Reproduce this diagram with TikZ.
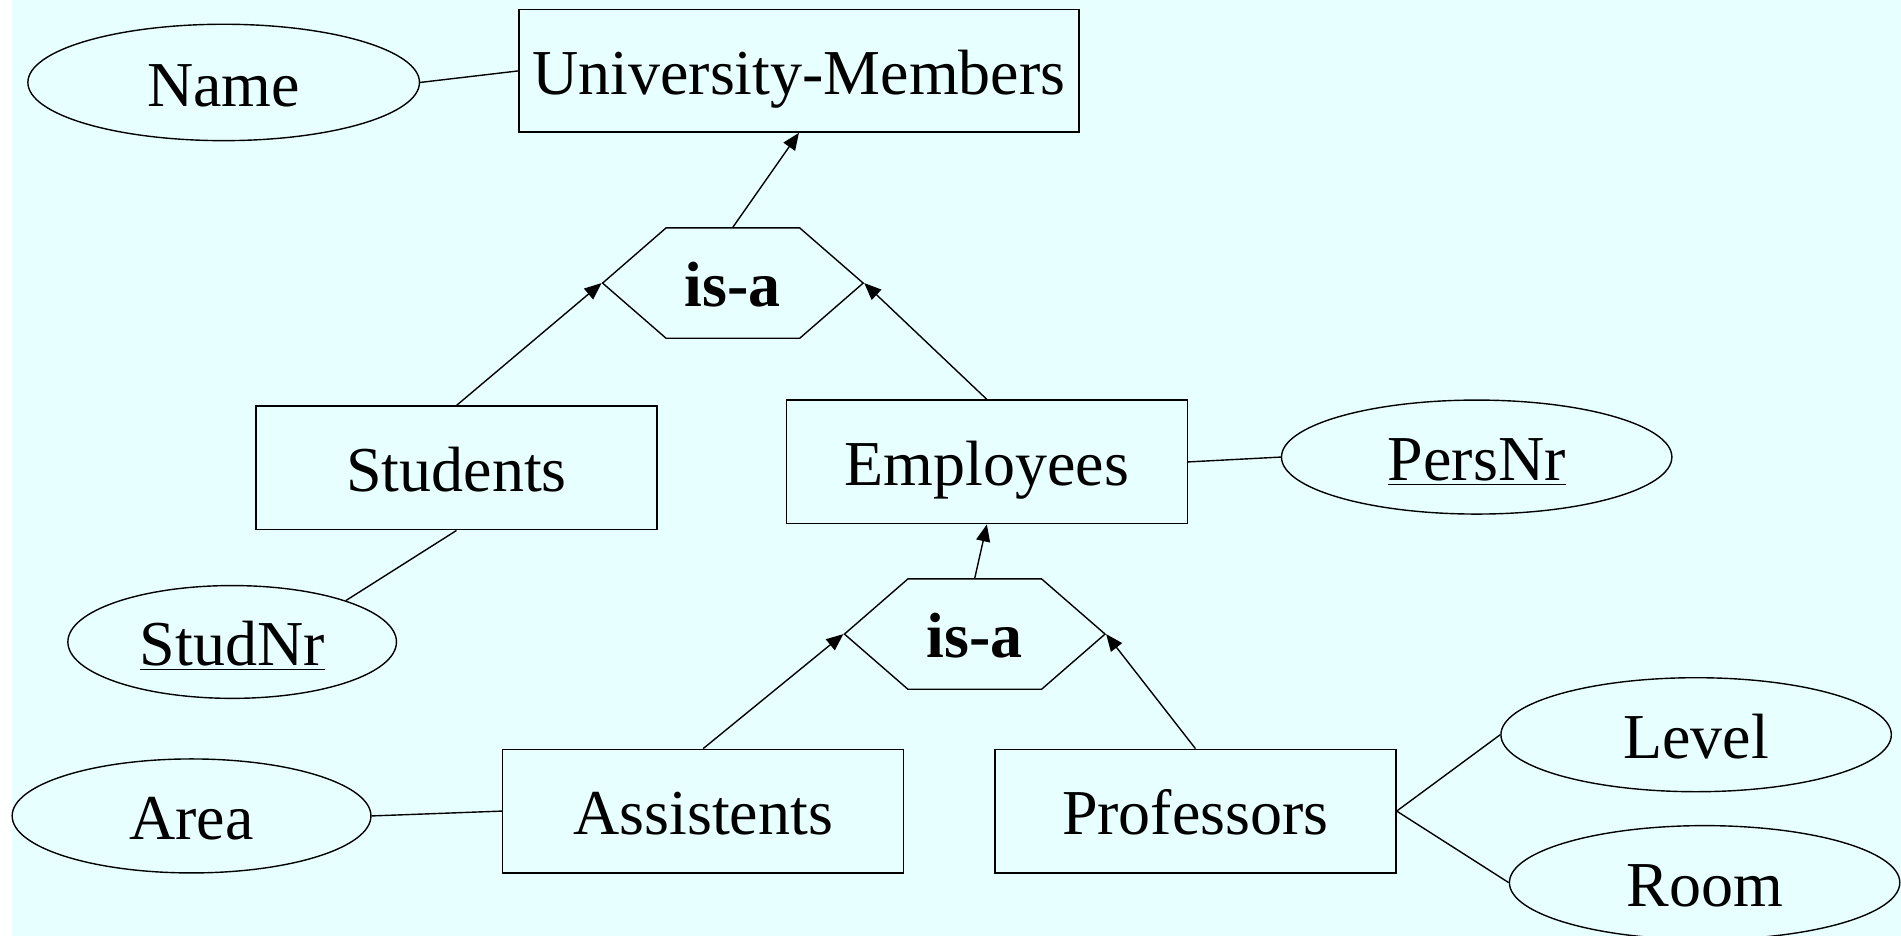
\documentclass[tikz,border=0pt]{standalone}
\usepackage{fontspec}
\setmainfont{Liberation Serif}
\usetikzlibrary{shapes.geometric,shapes.symbols,arrows.meta}
\definecolor{sfondo}{RGB}{232,255,255}

\begin{document}
\begin{tikzpicture}[x=0.6062pt, y=-0.6062pt,
		every node/.style={font=\fontsize{32}{38}\selectfont, inner sep=0pt, text height=23.7pt, text depth=0pt},
		entita/.style={rectangle, draw, line width=0.7pt, minimum width=200.6pt, minimum height=61.8pt},
		attributo/.style={ellipse, draw, line width=0.7pt, minimum height=57pt},
		isa/.style={signal, signal to=west and east, signal pointer angle=82, draw, line width=0.7pt,
			minimum width=130.3pt, minimum height=55.2pt, font=\fontsize{32}{38}\selectfont\bfseries},
		linea/.style={line width=0.7pt},
		freccia/.style={line width=0.7pt, -{Triangle[length=8.5pt, width=7pt]}}]
	% Sfondo
	\fill[white] (0,0) rectangle (1568,772);
	\fill[sfondo] (10,0) rectangle (1568,772);
	\useasboundingbox (0,0) rectangle (1568,772);
	
	% Entita
	\node[entita, minimum width=280.1pt, minimum height=61.2pt] (um) at (659, 58.5) {University-Members};
	\node[entita] (stud) at (376.5, 386) {Students};
	\node[entita] (emp) at (814, 381) {Employees};
	\node[entita] (asst) at (580, 669) {Assistents};
	\node[entita] (prof) at (986, 669) {Professors};
	
	% Generalizzazioni
	\node[isa] (isa1) at (604.5, 233.5) {is-a};
	\node[isa] (isa2) at (804, 523) {is-a};
	
	% Attributi
	\node[attributo, minimum width=195.8pt, minimum height=58.2pt] (name) at (184.5, 68) {Name};
	\node[attributo, minimum width=195.2pt] (persnr) at (1218, 377) {\underline{PersNr}};
	\node[attributo, minimum width=164.3pt, minimum height=56.4pt] (studnr) at (191.5, 529.5) {\underline{StudNr}};
	\node[attributo, minimum width=179.4pt] (area) at (158, 673) {Area};
	\node[attributo, minimum width=195.2pt] (level) at (1399, 606) {Level};
	\node[attributo, minimum width=195.2pt] (room) at (1406, 728) {Room};
	
	% Archi is-a
	\draw[freccia] (isa1.north) -- (um.south);
	\draw[freccia] (stud.north) -- (isa1.west);
	\draw[freccia] (emp.north) -- (isa1.east);
	\draw[freccia] (isa2.north) -- (emp.south);
	\draw[freccia] (asst.north) -- (isa2.west);
	\draw[freccia] (prof.north) -- (isa2.east);
	
	% Archi degli attributi
	\draw[linea] (name.east) -- (um.west);
	\draw[linea] (emp.east) -- (persnr.west);
	\draw[linea] (stud.south) -- (studnr.20);
	\draw[linea] (area.east) -- (asst.west);
	\draw[linea] (prof.east) -- (level.west);
	\draw[linea] (prof.east) -- (room.west);
\end{tikzpicture}
\end{document}
